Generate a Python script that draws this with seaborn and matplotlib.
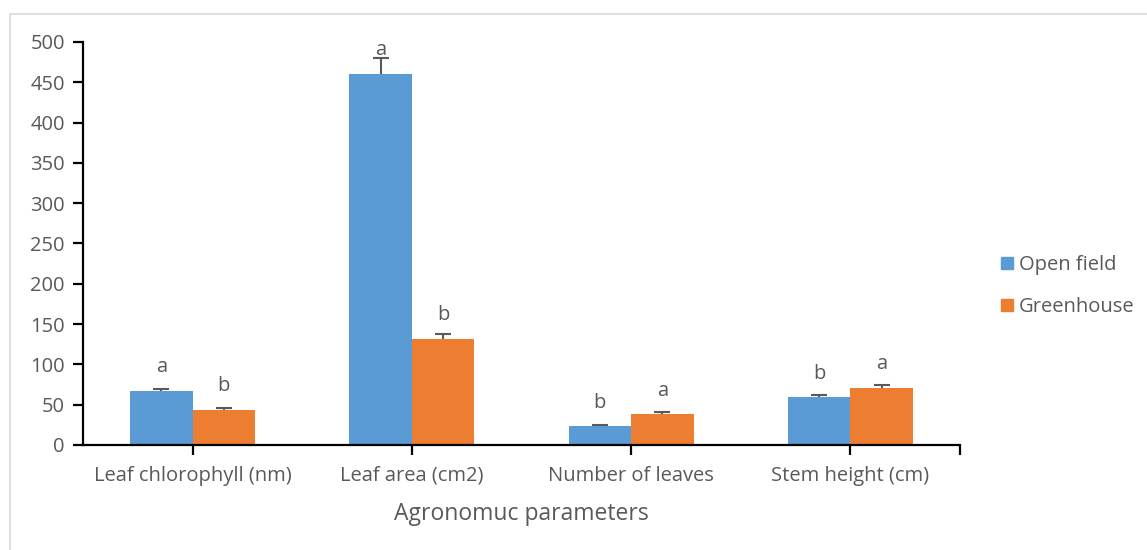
import matplotlib
matplotlib.use("Agg")
import matplotlib.pyplot as plt
from matplotlib.lines import Line2D
from matplotlib.patches import Rectangle
import seaborn as sns
import pandas as pd

# Data
categories = ["Leaf chlorophyll (nm)", "Leaf area (cm2)", "Number of leaves", "Stem height (cm)"]
series = ["Open field", "Greenhouse"]
open_field = [67, 460, 23, 59]
greenhouse = [44, 132, 39, 71]
open_err = [3, 20, 1.5, 3]
green_err = [2, 6, 2, 3.5]
open_letters = ["a", "a", "b", "b"]
green_letters = ["b", "b", "a", "a"]
open_letter_y = [97, 490, 52, 88]
green_letter_y = [73, 161, 67, 100]
y_ticks = list(range(0, 501, 50))

colors = ["#5b9bd5", "#ed7d31"]
text_col = "#595959"
fs = 14.5

df = pd.DataFrame({
    "parameter": categories * 2,
    "treatment": [series[0]] * 4 + [series[1]] * 4,
    "value": open_field + greenhouse,
})

sns.set_theme(style="white")
plt.rcParams["font.family"] = ["Open Sans", "DejaVu Sans"]

fig = plt.figure(figsize=(11.47, 5.5), dpi=100)
ax = fig.add_axes([83 / 1147, 105 / 550, (960 - 83) / 1147, 403 / 550])

sns.barplot(data=df, x="parameter", y="value", hue="treatment",
            order=categories, hue_order=series, palette=colors,
            width=0.57, gap=0, errorbar=None, saturation=1,
            linewidth=0, ax=ax, legend=False, zorder=2)

# Error bars (lower half hidden behind the bar) and significance letters
bars = ax.patches
for i, (vals, errs, letters, ly) in enumerate([
        (open_field, open_err, open_letters, open_letter_y),
        (greenhouse, green_err, green_letters, green_letter_y)]):
    for j in range(4):
        p = bars[i * 4 + j]
        xc = p.get_x() + p.get_width() / 2
        ax.errorbar(xc, vals[j], yerr=errs[j], fmt="none",
                    ecolor="#595959", elinewidth=1.5, capsize=6, capthick=1.5,
                    zorder=1)
        ax.text(xc, ly[j], letters[j], ha="center", va="center",
                fontsize=fs, color=text_col, zorder=4)

ax.set_ylim(0, 500)
ax.set_xlim(-0.5, 3.5)
ax.set_yticks(y_ticks)
ax.set_xticks(range(4))
ax.set_xticklabels(categories)
ax.set_xticks([3.5], minor=True)
ax.set_xlabel("Agronomuc parameters", fontsize=16.5, color=text_col)
ax.xaxis.set_label_coords(0.5, -0.142)
ax.set_ylabel("")

for s in ["top", "right"]:
    ax.spines[s].set_visible(False)
for s in ["left", "bottom"]:
    ax.spines[s].set_color("black")
    ax.spines[s].set_linewidth(1.6)

ax.tick_params(axis="y", which="major", direction="out", length=7, width=1.6,
               color="black", labelsize=fs, labelcolor=text_col, pad=6, left=True)
ax.tick_params(axis="x", which="both", direction="out", length=7, width=1.6,
               color="black", labelsize=fs, labelcolor=text_col, pad=8, bottom=True)

# Legend on the right
handles = [Line2D([], [], marker="s", linestyle="none", markersize=9,
                  markerfacecolor=c, markeredgecolor=c) for c in colors]
fig.legend(handles, series, loc="center left", bbox_to_anchor=(0.853, 0.48),
           frameon=False, fontsize=fs, labelcolor=text_col,
           handletextpad=0.1, labelspacing=1.05, handlelength=1.0)

# Light chart-area border
fig.patches.append(Rectangle((10 / 1147, -0.1), 1.2, (550 - 14) / 550 + 0.1,
                             transform=fig.transFigure, fill=False,
                             edgecolor="#d9d9d9", linewidth=1.2, zorder=0))

fig.savefig("out.png", dpi=100, facecolor="white")
